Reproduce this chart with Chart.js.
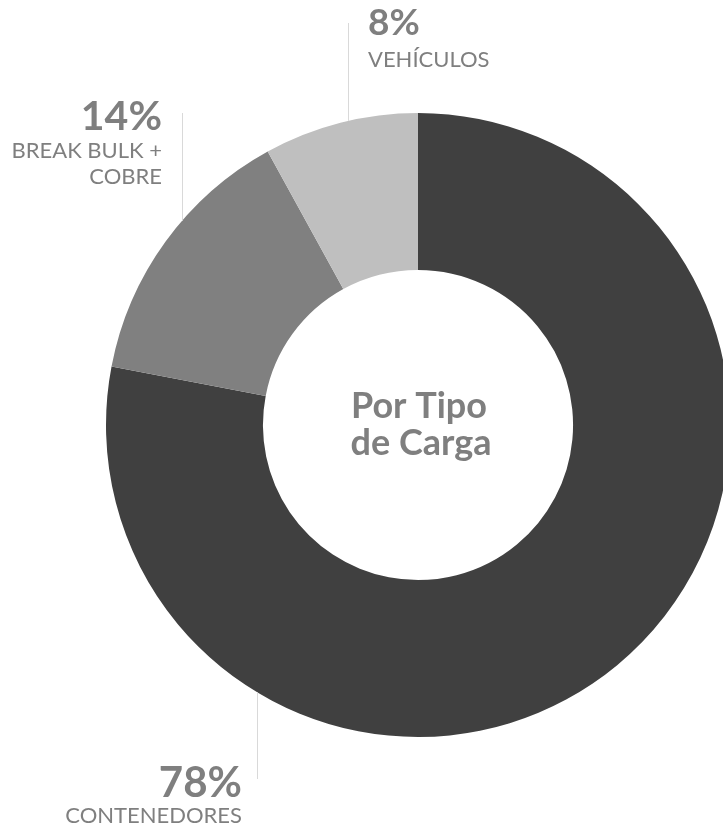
<!DOCTYPE html>
<html>
<head>
<meta charset="utf-8">
<script src="https://cdn.jsdelivr.net/npm/chart.js@4"></script>
<style>
html,body{margin:0;padding:0;background:#fff;overflow:hidden;width:723px;height:828px;}
#wrap{position:absolute;left:0;top:0;width:760px;height:828px;}
</style>
</head>
<body>
<div id="wrap"><canvas id="c" width="760" height="828"></canvas></div>
<script>
const categories = ['CONTENEDORES', 'BREAK BULK + COBRE', 'VEHÍCULOS'];
const categoryLines = [['CONTENEDORES'], ['BREAK BULK +', 'COBRE'], ['VEHÍCULOS']];
const values = [78, 14, 8];
const colors = ['#404040', '#808080', '#bfbfbf'];
const centerTitle = ['Por Tipo', 'de Carga'];

const TEXT = '#7f7f7f';
const LINE = '#d9d9d9';
const FONT = 'Lato, "Open Sans", sans-serif';

const labelPlugin = {
  id: 'labels',
  afterDraw(chart) {
    const ctx = chart.ctx;
    const arc = chart.getDatasetMeta(0).data[0];
    const cx = arc.x, cy = arc.y, R = arc.outerRadius;
    const arcY = (x, sign) => cy + sign * Math.sqrt(Math.max(R * R - (x - cx) * (x - cx), 0));
    ctx.save();
    ctx.strokeStyle = LINE;
    ctx.lineWidth = 1;
    const lines = [
      {x: cx - 161, y0: 779, sign: 1},
      {x: cx - 236, y0: 113, sign: -1},
      {x: cx - 70, y0: 23, sign: -1}
    ];
    lines.forEach(l => {
      ctx.beginPath();
      ctx.moveTo(l.x + 0.5, l.y0);
      ctx.lineTo(l.x + 0.5, arcY(l.x, l.sign));
      ctx.stroke();
    });
    ctx.fillStyle = TEXT;
    ctx.textBaseline = 'alphabetic';
    const blocks = [
      {x: 242, align: 'right', pctY: 797, pctSize: 42, subY: [823], subSize: 22},
      {x: 162, align: 'right', pctY: 130, pctSize: 41, subY: [158, 184], subSize: 22},
      {x: 368, align: 'left', pctY: 35, pctSize: 37, subY: [67], subSize: 22}
    ];
    blocks.forEach((b, i) => {
      ctx.textAlign = b.align;
      ctx.font = 'bold ' + b.pctSize + 'px ' + FONT;
      ctx.fillText(values[i] + '%', b.x, b.pctY);
      ctx.font = b.subSize + 'px ' + FONT;
      categoryLines[i].forEach((t, j) => ctx.fillText(t, b.x, b.subY[j]));
    });
    ctx.textAlign = 'center';
    ctx.font = 'bold 36px ' + FONT;
    ctx.fillText(centerTitle[0], cx + 1, 418);
    ctx.fillText(centerTitle[1], cx + 3, 455);
    ctx.restore();
  }
};

new Chart(document.getElementById('c'), {
  type: 'doughnut',
  data: {
    labels: categories,
    datasets: [{
      data: values,
      backgroundColor: colors,
      borderWidth: 0,
      hoverOffset: 0
    }]
  },
  options: {
    responsive: false,
    animation: false,
    cutout: '49.7%',
    layout: {padding: {left: 106, top: 113, right: 30, bottom: 91}},
    plugins: {legend: {display: false}, tooltip: {enabled: false}},
    events: []
  },
  plugins: [labelPlugin]
});
</script>
</body>
</html>
